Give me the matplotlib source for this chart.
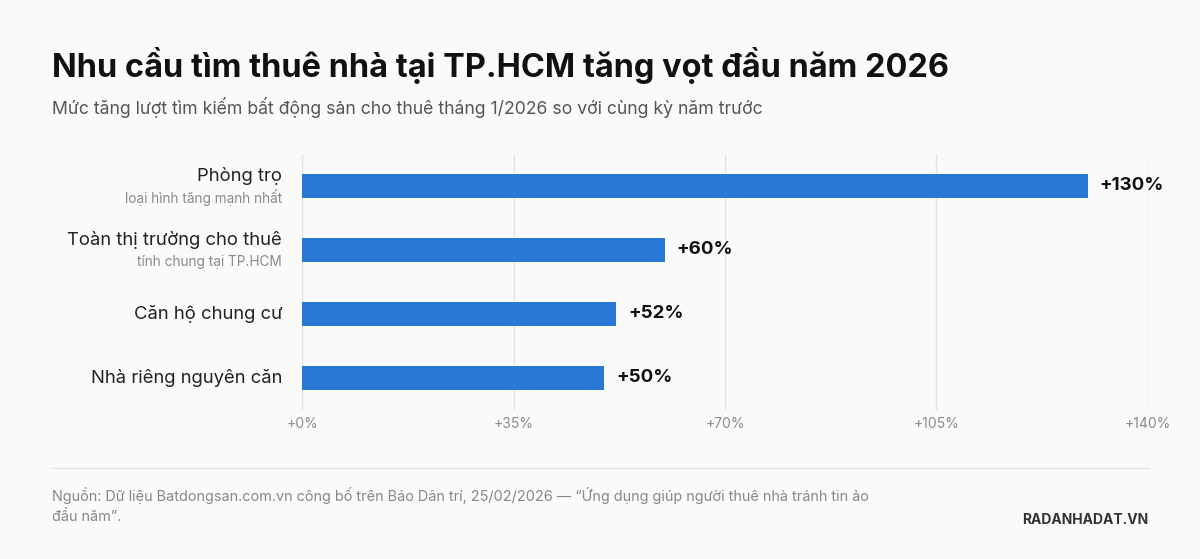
import matplotlib
matplotlib.use("Agg")
import matplotlib.pyplot as plt

categories = ["Phòng trọ", "Toàn thị trường cho thuê", "Căn hộ chung cư", "Nhà riêng nguyên căn"]
sublabels = ["loại hình tăng mạnh nhất", "tính chung tại TP.HCM", "", ""]
values = [130, 60, 52, 50]
xticks = [0, 35, 70, 105, 140]
xticklabels = ["+0%", "+35%", "+70%", "+105%", "+140%"]

plt.rcParams['font.family'] = ['Inter', 'DejaVu Sans']
bg = "#fafafa"
fig = plt.figure(figsize=(12, 5.59), dpi=100, facecolor=bg)
ax = fig.add_axes([302/1200, 1-410/559, 846/1200, 256/559], facecolor=bg)

ys = list(range(len(values)))
ax.barh(ys, values, height=0.375, color="#2a78d6", zorder=3)
ax.set_ylim(3.5, -0.5)
ax.set_xlim(0, 140)
ax.set_xticks(xticks)
ax.set_xticklabels(xticklabels, fontsize=10, color="#8a8a8a")
ax.tick_params(axis='x', length=0, pad=5)
ax.set_yticks([])
ax.grid(axis='x', color="#e4e4e4", lw=1, zorder=0)
for s in ax.spines.values():
    s.set_visible(False)

for y, v, c, sl in zip(ys, values, categories, sublabels):
    ax.text(v + 2, y, f"+{v}%", va='center', ha='left', fontsize=13.5, fontweight='bold', color="#111111")
    if sl:
        ax.text(-3.3, y - 0.15, c, va='center', ha='right', fontsize=13.3, color="#222222")
        ax.text(-3.3, y + 0.18, sl, va='center', ha='right', fontsize=9.8, color="#8a8a8a")
    else:
        ax.text(-3.3, y, c, va='center', ha='right', fontsize=13.3, color="#222222")

fig.text(52/1200, 1-65/559, "Nhu cầu tìm thuê nhà tại TP.HCM tăng vọt đầu năm 2026",
         fontsize=23.4, fontweight='bold', color="#111111", va='center')
fig.text(52/1200, 1-107/559, "Mức tăng lượt tìm kiếm bất động sản cho thuê tháng 1/2026 so với cùng kỳ năm trước",
         fontsize=12.7, color="#555555", va='center')
fig.add_artist(plt.Line2D([52/1200, 1148/1200], [1-468/559]*2, color="#e2e2e2", lw=1))
fig.text(52/1200, 1-495/559, "Nguồn: Dữ liệu Batdongsan.com.vn công bố trên Báo Dân trí, 25/02/2026 — “Ứng dụng giúp người thuê nhà tránh tin ảo",
         fontsize=10.4, color="#888888", va='center')
fig.text(52/1200, 1-517/559, "đầu năm”.", fontsize=10.4, color="#888888", va='center')
fig.text(1148/1200, 1-520/559, "RADANHADAT.VN", fontsize=10, fontweight='bold', color="#333333",
         va='center', ha='right')

fig.savefig("out.png", dpi=100, facecolor=bg)
